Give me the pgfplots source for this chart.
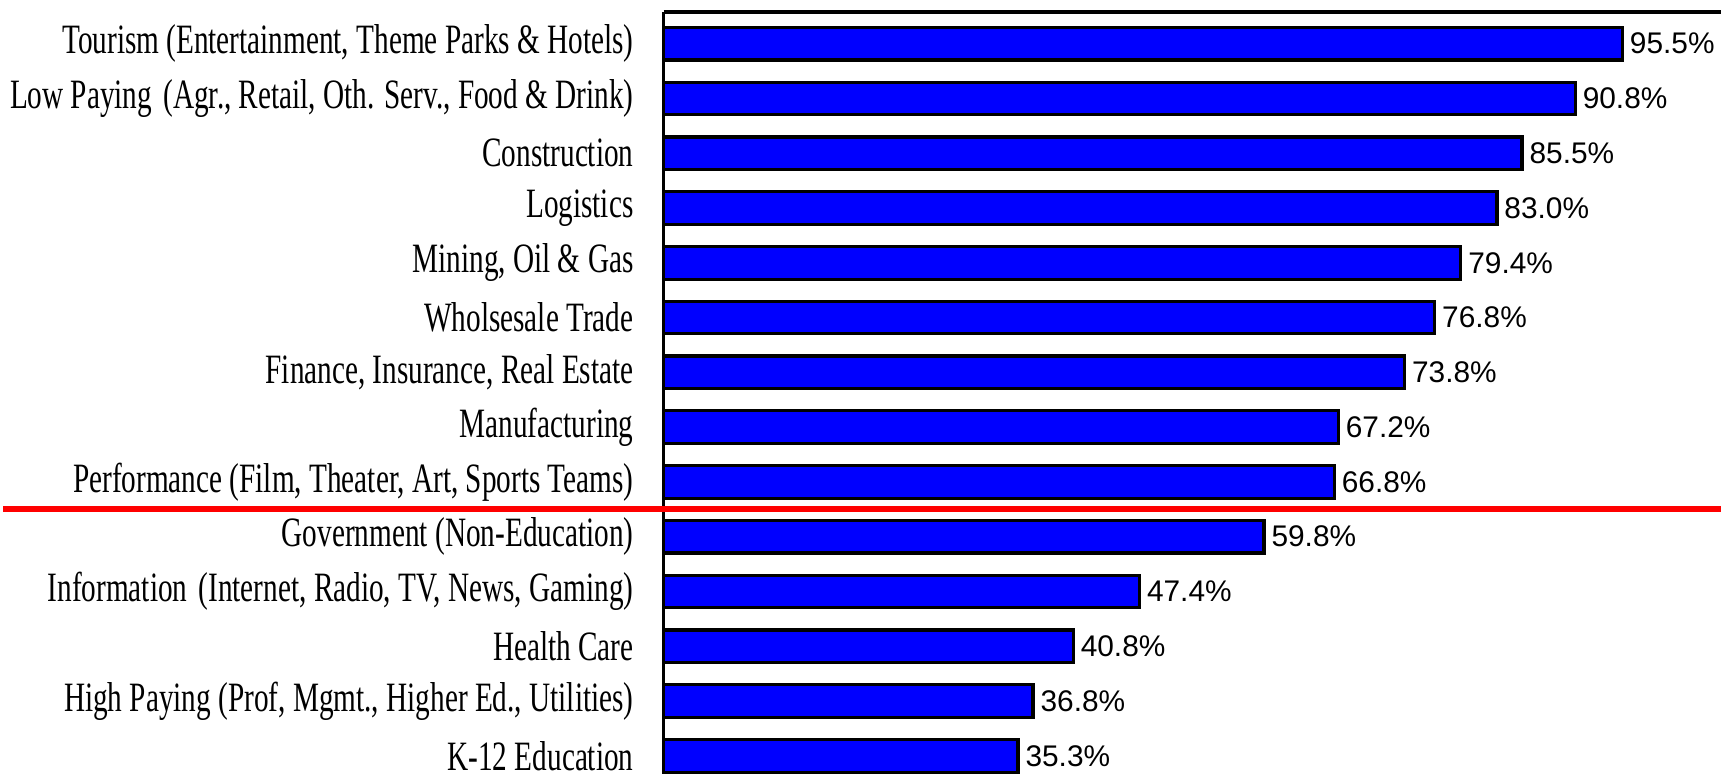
\documentclass[border=0pt]{standalone}
\usepackage{fontspec}
\setmainfont{Liberation Serif}[FakeStretch=0.7]
\newfontfamily\valfont{Liberation Sans}
\usepackage{pgfplots}
\pgfplotsset{compat=1.18}
\definecolor{barblue}{RGB}{0,0,255}

\begin{document}
\begin{tikzpicture}
\begin{axis}[
  xbar,
  scale only axis,
  width=265.75pt,
  height=191.25pt,
  xmin=0, xmax=105.3,
  ymin=-0.58, ymax=13.31,
  y dir=reverse,
  bar width=8.2pt,
  axis x line*=top,
  axis y line*=left,
  axis line style={line width=0.8pt},
  xtick=\empty,
  ytick={0,...,13},
  ytick style={draw=none},
  yticklabel style={font=\fontsize{10.5}{12}\selectfont, inner sep=0pt, xshift=-3.1pt},
  yticklabels={
    {Tourism (Entertainment, Theme Parks \& Hotels)},
    {Low Paying\hspace{1pt} (Agr., Retail, Oth. Serv., Food \& Drink)},
    {Construction},
    {Logistics},
    {Mining, Oil \& Gas},
    {Wholsesale Trade},
    {Finance, Insurance, Real Estate},
    {Manufacturing},
    {Performance (Film, Theater, Art, Sports Teams)},
    {Government (Non-Education)},
    {Information\hspace{1pt} (Internet, Radio, TV, News, Gaming)},
    {Health Care},
    {High Paying (Prof, Mgmt., Higher Ed., Utilities)},
    {K-12 Education}},
  nodes near coords={\pgfmathprintnumber[fixed,fixed zerofill,precision=1,assume math mode=true]{\pgfplotspointmeta}\%},
  nodes near coords style={font=\valfont\fontsize{7.5}{9}\selectfont, anchor=west, inner sep=1.5pt},
  clip=false,
]
\addplot[fill=barblue, draw=black, line width=0.8pt] coordinates {
  (95.5,0) (90.8,1) (85.5,2) (83.0,3) (79.4,4) (76.8,5) (73.8,6)
  (67.2,7) (66.8,8) (59.8,9) (47.4,10) (40.8,11) (36.8,12) (35.3,13)};
\draw[red, line width=1.6pt] ([xshift=-166pt]axis cs:0,8.5) -- (axis cs:105.3,8.5);
\path ([yshift=3pt]rel axis cs:0,1);
\end{axis}
\end{tikzpicture}
\end{document}
